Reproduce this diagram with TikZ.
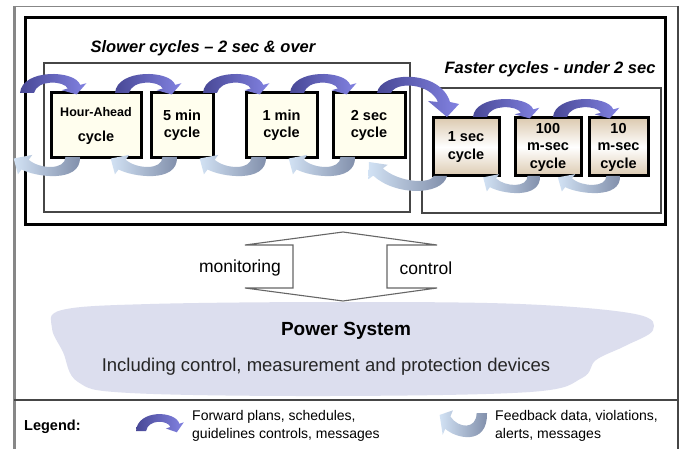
\documentclass[tikz,border=0pt]{standalone}
\usepackage{fontspec}
\setmainfont{Liberation Sans}
\definecolor{fwdark}{RGB}{72,72,150}
\definecolor{fwlight}{RGB}{130,130,225}
\definecolor{fbdark}{RGB}{128,142,170}
\definecolor{fblight}{RGB}{210,226,244}
\definecolor{cream}{RGB}{255,254,238}
\definecolor{tanc}{RGB}{220,202,176}
\definecolor{cloudc}{RGB}{220,222,238}
\definecolor{framegray}{RGB}{135,135,135}
\definecolor{linegray}{RGB}{70,70,70}
\newcommand{\fwdarrow}[3][]{\shade[left color=fwdark,right color=fwlight,shift={(#2,#3)},#1] (0,0) .. controls (2,-27) and (55,-26) .. (60.2,-9) -- (66.4,-10.9) -- (56.7,1.6) -- (41.6,-3.1) -- (47.8,-5) .. controls (44,-14) and (17,-15) .. (14,0) -- cycle;}
\newcommand{\fbarrow}[3][]{\shade[left color=fblight,right color=fbdark,shift={(#2,#3)},#1] (0,0) .. controls (1,28) and (-40,21) .. (-52.2,13.1) -- (-55.4,18.2) -- (-59.2,1.6) -- (-42.6,-2.2) -- (-45.8,2.9) .. controls (-36,13) and (-13,14) .. (-13,0) -- cycle;}
\tikzset{
  slowbox/.style={draw=black,line width=3pt,fill=cream,align=center,inner sep=0pt,
    font=\fontsize{14.5}{17}\selectfont\bfseries,minimum height=65},
  fastbox/.style={draw=black,line width=3pt,top color=tanc,bottom color=tanc,middle color=white,
    align=center,inner sep=0pt,font=\fontsize{14.5}{17.5}\selectfont\bfseries,minimum height=58},
  groupbox/.style={draw=linegray,line width=1.3pt},
  titletext/.style={font=\fontsize{16.5}{18}\selectfont\bfseries\itshape,inner sep=0pt},
  midtext/.style={font=\fontsize{17.5}{20}\selectfont,inner sep=0pt},
  legtext/.style={font=\fontsize{14}{18}\selectfont,align=left,anchor=west,inner sep=0pt},
}
\begin{document}
\begin{tikzpicture}[x=1pt,y=-1pt]
\useasboundingbox (0,0) rectangle (683,449);
\fill[white] (0,0) rectangle (683,449);
% outer frame
\draw[framegray,line width=0.8pt] (14,6) -- (678,6);
\draw[framegray,line width=3pt] (14,6) -- (14,449);
\draw[linegray,line width=2.5pt] (678,6) -- (678,449);
% legend separator
\draw[linegray,line width=2pt] (14,400) -- (678,400);
% main black frame
\draw[black,line width=3pt] (25,18) rectangle (665,225);
% group boxes
\draw[groupbox] (44,63) rectangle (410,212);
\draw[groupbox] (422,88) rectangle (661,213);
\node[titletext] (slowtitle) at (203,48) {Slower cycles -- 2 sec \& over};
\node[titletext] (fasttitle) at (550,69) {Faster cycles - under 2 sec};
% cycle boxes
\node[slowbox,minimum width=90] (ha) at (96,125.5) {{\fontsize{12.5}{14}\selectfont Hour-Ahead}\\[8pt]cycle};
\node[slowbox,minimum width=62] (m5) at (182,125.5) {5 min\\cycle};
\node[slowbox,minimum width=71] (m1) at (281.5,125.5) {1 min\\cycle};
\node[slowbox,minimum width=72] (s2) at (369,125.5) {2 sec\\cycle};
\node[fastbox,minimum width=66] (s1) at (466,147) {1 sec\\cycle};
\node[fastbox,minimum width=66] (ms100) at (548,147) {100\\m-sec\\cycle};
\node[fastbox,minimum width=59] (ms10) at (618.5,147) {10\\m-sec\\cycle};
% forward arrows
\fwdarrow[yscale=0.9]{20}{93}
\fwdarrow[yscale=0.9]{115}{93}
\fwdarrow[yscale=0.9]{203}{93}
\fwdarrow[yscale=0.9]{290}{93}
\shade[left color=fwdark,right color=fwlight] (377,93) .. controls (380,71) and (440,69) .. (450,102) -- (459,104) -- (447,117) -- (428,101) -- (438,102) .. controls (430,83) and (396,81) .. (391,93) -- cycle;
\fwdarrow[yscale=0.85]{473}{117}
\fwdarrow[yscale=0.85]{553}{117}
% feedback arrows
\fbarrow[xscale=1.12,yscale=0.95]{80}{157}
\fbarrow[xscale=1.12,yscale=0.95]{177}{157}
\fbarrow[xscale=1.12,yscale=0.95]{266}{157}
\fbarrow[xscale=1.12,yscale=0.95]{355}{157}
\shade[left color=fblight,right color=fbdark] (447,176) .. controls (442,196) and (395,196) .. (373.2,175.6) -- (368.4,179.2) -- (369,162) -- (387.6,164.8) -- (382.8,168.4) .. controls (400,183) and (430,184) .. (434,176) -- cycle;
\fbarrow[xscale=0.96,yscale=0.85]{540}{176}
\fbarrow[xscale=1.05,yscale=0.85]{620}{176}
% monitoring / control double arrow
\draw[gray!80!black,line width=1.1pt,line join=miter] (245,245) -- (293,245) -- (293,288) -- (245,288) -- (343,301) -- (437,288) -- (387,288) -- (387,245) -- (437,245) -- (343,232) -- cycle;
\node[midtext] (mon) at (240,268) {monitoring};
\node[midtext] (ctl) at (426,268) {control};
% power system cloud
\fill[cloudc] plot[smooth cycle,tension=0.6] coordinates {(62,310) (150,304) (340,302) (520,304) (635,314) (653,330) (625,346) (596,360) (582,378) (530,392) (330,396) (130,393) (78,382) (63,352) (52,328)};
\node[font=\fontsize{19}{22}\selectfont\bfseries,inner sep=0pt] (ps) at (346,331) {Power System};
\node[font=\fontsize{18.5}{22}\selectfont,text=black!85,inner sep=0pt] (incl) at (326,367) {Including control, measurement and protection devices};
% legend
\node[font=\fontsize{14.5}{18}\selectfont\bfseries,anchor=west,inner sep=0pt] (leg) at (24,427) {Legend:};
\fwdarrow[xscale=0.72,yscale=0.8]{136}{431}
\node[legtext] (legfw) at (192,426) {Forward plans, schedules,\\guidelines controls, messages};
\fbarrow[xscale=0.8,yscale=1.2]{487}{413}
\node[legtext] (legfb) at (495,426) {Feedback data, violations,\\alerts, messages};
\end{tikzpicture}
\end{document}
